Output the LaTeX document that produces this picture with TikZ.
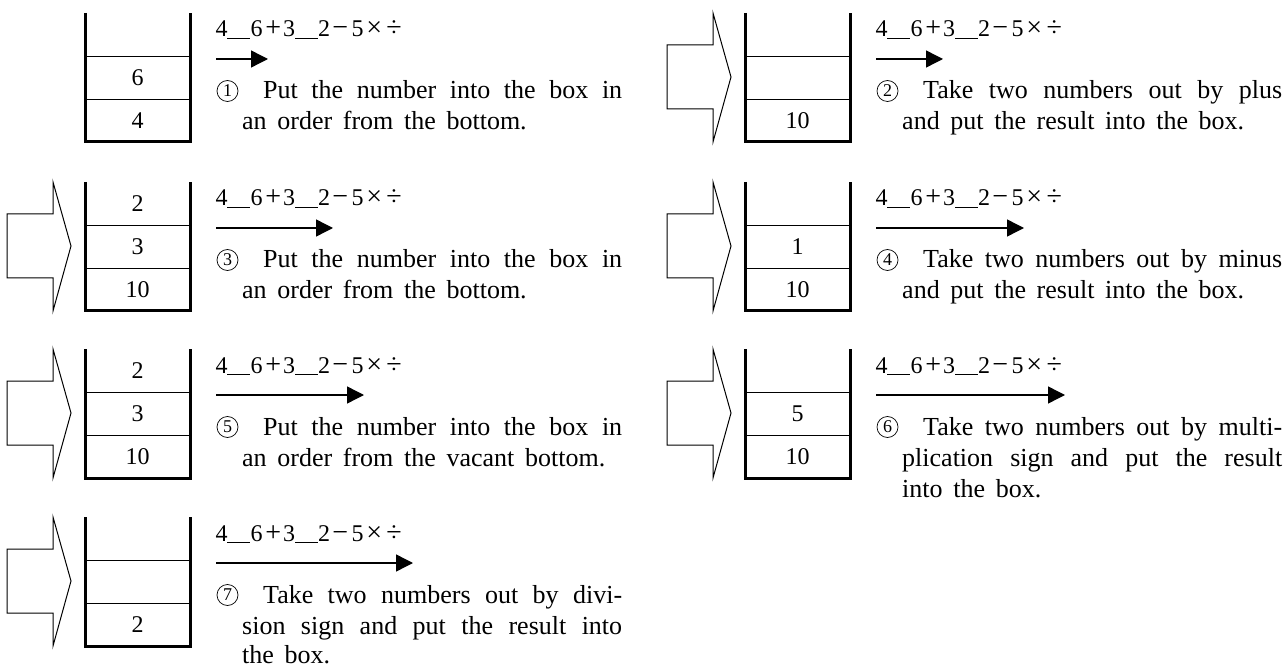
\documentclass[tikz,border=0pt]{standalone}
\usepackage{fontspec}
\setmainfont{Liberation Serif}
\usetikzlibrary{arrows.meta}

\tikzset{
  wall/.style={line width=3pt, line join=miter},
  divider/.style={line width=0.9pt},
  blockshape/.style={line width=1pt, line join=miter},
  progress/.style={line width=1.4pt, -{Triangle[length=17pt,width=17pt]}},
  cellnum/.style={font=\fontsize{24}{24}\selectfont, inner sep=0pt},
  exprtext/.style={font=\fontsize{24}{24}\selectfont, inner sep=0pt, anchor=base west},
  paraline/.style={font=\fontsize{26}{31}\selectfont, inner sep=0pt, anchor=base west},
  circnum/.style={circle, draw, line width=0.7pt, minimum size=21pt, inner sep=0pt, font=\fontsize{18}{18}\selectfont},
}

\newcommand\pl[1]{\spaceskip=0.41em plus 1em\relax #1}
\newcommand\op[1]{{\fontsize{28}{28}\selectfont #1}}
\newcommand\exprline{\makebox[11pt]{4}\rule[-1.5pt]{23pt}{0.8pt}\makebox[13pt]{6}\makebox[20pt]{\op{+}}\makebox[12pt]{3}\rule[-1.5pt]{23pt}{0.8pt}\makebox[12pt]{2}\makebox[20pt]{\op{−}}\makebox[15pt]{5}\makebox[18pt]{\op{×}}\makebox[22pt]{\op{÷}}}
\newcommand\firstline[1]{\pl{\makebox[359pt][s]{#1}}}
\newcommand\fullline[1]{\pl{\makebox[380pt][s]{#1}}}

\newcommand\drawstack[2]{% #1 dx, #2 top
  \draw[wall] ({#1+85},{#2}) -- ({#1+85},{#2+129}) -- ({#1+190.5},{#2+129}) -- ({#1+190.5},{#2});
  \draw[divider] ({#1+85},{#2+43}) -- ({#1+190.5},{#2+43});
  \draw[divider] ({#1+85},{#2+86}) -- ({#1+190.5},{#2+86});
}
\newcommand\blockarrow[2]{% #1 dx, #2 top
  \draw[blockshape] ({#1+7},{#2+32}) -- ({#1+53},{#2+32}) -- ({#1+53},{#2}) -- ({#1+71},{#2+64}) -- ({#1+53},{#2+129}) -- ({#1+53},{#2+96}) -- ({#1+7},{#2+96}) -- cycle;
}
% #1 name, #2 dx, #3 top, #4 arrow length
\newcommand\progressrow[4]{%
  \node[exprtext] (#1e) at ({#2+216},{#3+24}) {\exprline};
  \coordinate (#1s) at ({#2+216},{#3+46});
  \coordinate (#1f) at ({#2+216+#4},{#3+46});
  \draw[progress] (#1s) -- (#1f);
}
% #1 name, #2 dx, #3 top, #4 digit, #5 first line text
\newcommand\firstpara[5]{%
  \node[circnum] (#1c) at ({#2+227.5},{#3+78}) {#4};
  \node[paraline] (#1a) at ({#2+263},{#3+86}) {\firstline{#5}};
}

\begin{document}
\begin{tikzpicture}[x=1pt,y=-1pt]
\useasboundingbox (0,0) rectangle (1285,668);

% ---------- Left column ----------
% Row 1
\drawstack{0}{13}
\node[cellnum] (s1m) at (137.5,{13+65}) {6};
\node[cellnum] (s1b) at (137.5,{13+108}) {4};
\progressrow{r1}{0}{13}{52}
\firstpara{t1}{0}{13}{1}{Put the number into the box in}
\node[paraline] (t1b) at (242,{13+117}) {\pl{an order from the bottom.}};

% Row 2
\blockarrow{0}{182}
\drawstack{0}{182}
\node[cellnum] (s3t) at (137.5,{182+22}) {2};
\node[cellnum] (s3m) at (137.5,{182+65}) {3};
\node[cellnum] (s3b) at (137.5,{182+108}) {10};
\progressrow{r3}{0}{182}{117}
\firstpara{t3}{0}{182}{3}{Put the number into the box in}
\node[paraline] (t3b) at (242,{182+117}) {\pl{an order from the bottom.}};

% Row 3
\blockarrow{0}{349}
\drawstack{0}{349}
\node[cellnum] (s5t) at (137.5,{349+22}) {2};
\node[cellnum] (s5m) at (137.5,{349+65}) {3};
\node[cellnum] (s5b) at (137.5,{349+108}) {10};
\progressrow{r5}{0}{349}{148}
\firstpara{t5}{0}{349}{5}{Put the number into the box in}
\node[paraline] (t5b) at (242,{349+117}) {\pl{an order from the vacant bottom.}};

% Row 4
\blockarrow{0}{517}
\drawstack{0}{517}
\node[cellnum] (s7b) at (137.5,{517+108}) {2};
\progressrow{r7}{0}{517}{197}
\firstpara{t7}{0}{517}{7}{Take two numbers out by divi-}
\node[paraline] (t7b) at (242,{517+117}) {\fullline{sion sign and put the result into}};
\node[paraline] (t7c) at (242,{517+146}) {\pl{the box.}};

% ---------- Right column ----------
% Row 1
\blockarrow{660}{13}
\drawstack{660}{13}
\node[cellnum] (s2b) at ({660+137.5},{13+108}) {10};
\progressrow{r2}{660}{13}{67}
\firstpara{t2}{660}{13}{2}{Take two numbers out by plus}
\node[paraline] (t2b) at ({660+242},{13+117}) {\pl{and put the result into the box.}};

% Row 2
\blockarrow{660}{182}
\drawstack{660}{182}
\node[cellnum] (s4m) at ({660+137.5},{182+65}) {1};
\node[cellnum] (s4b) at ({660+137.5},{182+108}) {10};
\progressrow{r4}{660}{182}{148}
\firstpara{t4}{660}{182}{4}{Take two numbers out by minus}
\node[paraline] (t4b) at ({660+242},{182+117}) {\pl{and put the result into the box.}};

% Row 3
\blockarrow{660}{349}
\drawstack{660}{349}
\node[cellnum] (s6m) at ({660+137.5},{349+65}) {5};
\node[cellnum] (s6b) at ({660+137.5},{349+108}) {10};
\progressrow{r6}{660}{349}{189}
\firstpara{t6}{660}{349}{6}{Take two numbers out by multi-}
\node[paraline] (t6b) at ({660+242},{349+117}) {\fullline{plication sign and put the result}};
\node[paraline] (t6c) at ({660+242},{349+148}) {\pl{into the box.}};
\end{tikzpicture}
\end{document}
